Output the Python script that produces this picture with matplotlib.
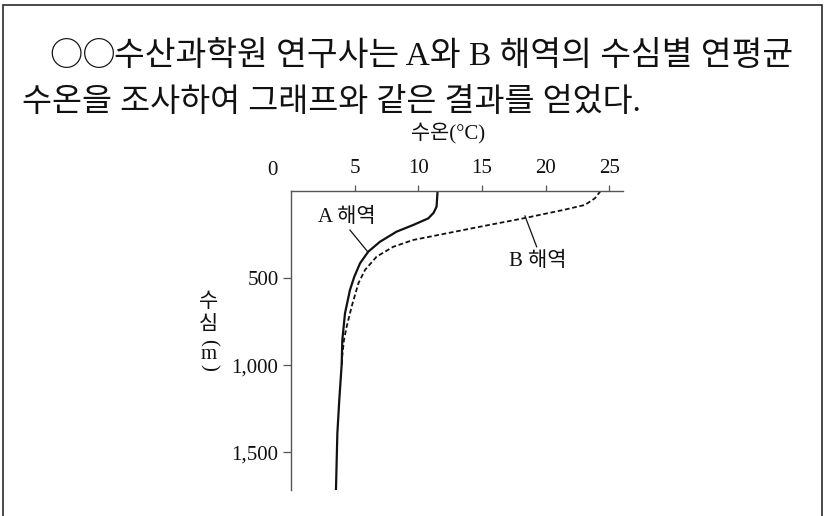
import matplotlib.pyplot as plt
from matplotlib.patches import Rectangle

# 수심별 연평균 수온 (수온 °C, 수심 m)
depth_a = [0, 90, 125, 157, 195, 233, 291, 348, 415, 492, 568, 702, 855, 995, 1200, 1391, 1716]
temp_a = [11.51, 11.43, 11.2, 10.78, 9.6, 8.3, 6.99, 6.07, 5.42, 4.97, 4.63, 4.24, 4.03, 3.98, 3.79, 3.64, 3.53]

depth_b = [0, 42, 80, 109, 157, 205, 243, 281, 320, 377, 453, 530, 664, 779, 855, 950, 1000]
temp_b = [24.31, 23.86, 23.08, 21.38, 18.24, 14.84, 12.22, 9.6, 8.03, 6.72, 5.81, 5.29, 4.76, 4.37, 4.16, 4.02, 3.98]

x_ticks = [5, 10, 15, 20, 25]
y_ticks = [500, 1000, 1500]
y_tick_labels = ['500', '1,000', '1,500']

fonts = ['Liberation Serif', 'Noto Sans CJK KR']
plt.rcParams['font.family'] = fonts

fig = plt.figure(figsize=(8.25, 5.16), dpi=100)

# 바깥 테두리
fig.patches.append(Rectangle((3 / 825, -0.05), 818.7 / 825, 1 - 5 / 516 + 0.05,
                             transform=fig.transFigure, fill=False,
                             edgecolor='#2a2a2a', linewidth=1.2, clip_on=False))

fig.text(49 / 825, 1 - 57 / 516, '○○', fontsize=24, va='center', ha='left',
         color='#111111', family=['Noto Sans CJK KR'])
fig.text(114 / 825, 1 - 57 / 516, '수산과학원 연구사는 A와 B 해역의 수심별 연평균',
         fontsize=24.1, va='center', ha='left', color='#111111')
fig.text(22 / 825, 1 - 103 / 516, '수온을 조사하여 그래프와 같은 결과를 얻었다.',
         fontsize=23.5, va='center', ha='left', color='#111111')

ax = fig.add_axes([291 / 825, 1 - 490 / 516, 332 / 825, 299 / 516])
ax.plot(temp_a, depth_a, color='#111111', linewidth=1.6)
ax.plot(temp_b, depth_b, color='#111111', linewidth=1.3, linestyle=(0, (2.6, 1.5)))

ax.set_xlim(0, 26.07)
ax.set_ylim(1716, 0)
ax.xaxis.tick_top()
ax.set_xticks(x_ticks)
ax.set_yticks(y_ticks)
ax.set_yticklabels(y_tick_labels)
ax.tick_params(axis='x', direction='out', length=4.5, width=0.9, pad=5,
               labelsize=15, colors='#555555', labelcolor='#111111')
ax.tick_params(axis='y', direction='out', length=6, width=0.9, pad=3,
               labelsize=15, colors='#555555', labelcolor='#111111')
for side in ['right', 'bottom']:
    ax.spines[side].set_visible(False)
for side in ['top', 'left']:
    ax.spines[side].set_color('#555555')
    ax.spines[side].set_linewidth(1.0)

# 0 눈금 글자는 축에서 왼쪽으로 비켜서 씀
ax.text(-1.45, -118, '0', fontsize=15, ha='center', va='center', color='#111111')
ax.text(12.3, -333, '수온(°C)', fontsize=15, ha='center', va='center', color='#111111')

# 세로축 제목: 세로쓰기
lx = -6.5
ax.text(lx, 640, '수', fontsize=15, ha='center', va='center', color='#111111')
ax.text(lx, 772, '심', fontsize=15, ha='center', va='center', color='#111111')
ax.text(lx, 870, '(', fontsize=15, ha='center', va='center', rotation=-90, color='#111111')
ax.text(lx, 940, 'm', fontsize=15, ha='center', va='center', color='#111111')
ax.text(lx, 1012, ')', fontsize=15, ha='center', va='center', rotation=-90, color='#111111')

# 해역 이름과 지시선
ax.text(4.40, 149, 'A 해역', fontsize=15, ha='center', va='center', color='#111111')
ax.plot([4.63, 6.04], [224, 350], color='#111111', linewidth=0.9)
ax.text(19.39, 406, 'B 해역', fontsize=15, ha='center', va='center', color='#111111')
ax.plot([19.29, 18.37], [320, 143], color='#111111', linewidth=0.9)

fig.savefig('out.png', dpi=100)
